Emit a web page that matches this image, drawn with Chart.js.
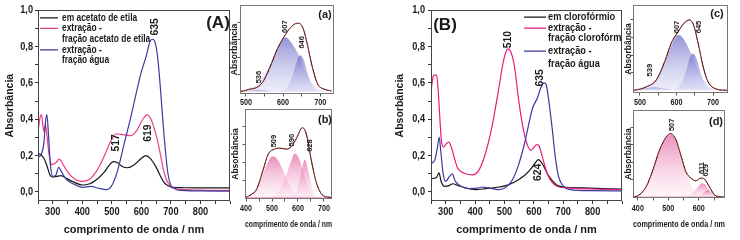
<!DOCTYPE html>
<html><head><meta charset="utf-8">
<script src="https://cdn.jsdelivr.net/npm/chart.js@4.4.1/dist/chart.umd.min.js"></script>
<style>
html,body{margin:0;padding:0;background:#fff;}
#wrap{position:relative;width:740px;height:240px;overflow:hidden;background:#fff}
canvas{position:absolute}
</style>
</head><body><div id="wrap">
<canvas id="cA" width="234" height="240" style="left:0px;top:0px"></canvas>
<canvas id="cB" width="236" height="240" style="left:390px;top:0px"></canvas>
<canvas id="ca" width="114" height="112" style="left:226px;top:0px"></canvas>
<canvas id="cb" width="124" height="136" style="left:222px;top:104px"></canvas>
<canvas id="cc" width="118" height="112" style="left:618px;top:0px"></canvas>
<canvas id="cd" width="128" height="136" style="left:612px;top:104px"></canvas>
</div>
<script>
// ================= DATA =================
const nmA_black = [250,260,270,280,290,300,312,328,348,370,400,425,450,475,490,505,520,535,553,575,600,615,630,645,655,665,678,690,700,725,750,800,850,900];
const absA_black = [0.21,0.205,0.185,0.145,0.095,0.082,0.085,0.09,0.073,0.055,0.038,0.045,0.07,0.11,0.145,0.167,0.16,0.14,0.133,0.148,0.185,0.20,0.185,0.15,0.12,0.085,0.05,0.035,0.027,0.024,0.023,0.022,0.022,0.022];
const nmA_pink = [250,256,262,267,271,275,279,288,298,310,322,335,350,375,400,425,450,475,500,515,540,565,585,605,620,635,655,678,690,700,710,750,800,900];
const absA_pink = [0.33,0.40,0.425,0.36,0.33,0.37,0.33,0.20,0.15,0.16,0.18,0.15,0.11,0.07,0.058,0.07,0.12,0.20,0.29,0.32,0.315,0.31,0.34,0.40,0.425,0.39,0.28,0.10,0.05,0.03,0.02,0.013,0.01,0.008];
const nmA_blue = [250,262,270,275,280,285,292,300,310,320,330,345,375,400,430,455,483,500,520,541,564,598,615,630,638,647,655,662,670,680,690,700,710,725,800,900];
const absA_blue = [0.19,0.21,0.27,0.38,0.425,0.33,0.15,0.085,0.09,0.135,0.11,0.07,0.04,0.025,0.03,0.02,0.013,0.035,0.12,0.26,0.41,0.65,0.74,0.83,0.84,0.82,0.74,0.62,0.45,0.25,0.10,0.035,0.02,0.01,0.006,0.004];
const nmB_black = [250,269,277,285,297,313,324,341,368,402,435,468,501,535,568,590,607,615,629,646,662,679,701,767,900];
const absB_black = [0.073,0.08,0.105,0.055,0.03,0.036,0.045,0.036,0.022,0.013,0.018,0.024,0.033,0.055,0.09,0.127,0.164,0.178,0.155,0.10,0.064,0.036,0.027,0.022,0.015];
const nmB_pink = [250,256,261,269,274,280,285,293,302,310,319,330,341,363,391,413,435,457,479,496,507,512,524,535,546,557,573,590,601,610,618,629,645,662,679,712,800,900];
const absB_pink = [0.553,0.625,0.643,0.643,0.57,0.41,0.29,0.247,0.265,0.274,0.247,0.184,0.13,0.103,0.094,0.12,0.21,0.355,0.553,0.715,0.778,0.787,0.76,0.68,0.535,0.41,0.283,0.229,0.247,0.26,0.252,0.193,0.103,0.052,0.031,0.022,0.016,0.013];
const nmB_blue = [250,263,272,278,283,291,300,313,322,333,352,380,413,424,446,479,501,524,546,568,585,596,612,623,635,642,651,662,673,684,701,723,800,900];
const absB_blue = [0.157,0.175,0.247,0.30,0.23,0.103,0.058,0.085,0.099,0.058,0.031,0.018,0.022,0.027,0.022,0.013,0.022,0.058,0.139,0.265,0.39,0.463,0.517,0.571,0.60,0.59,0.50,0.355,0.193,0.085,0.031,0.013,0.007,0.006];

const nm_a_env = [485,493,510,529,545,556,570,584,602,620,638,652,665,679,693,711,730];
const ab_a_env = [0.005,0.01,0.03,0.05,0.11,0.2,0.34,0.49,0.63,0.74,0.79,0.75,0.55,0.28,0.09,0.03,0.01];
const nm_a_607 = [480,500,520,540,560,580,600,607,620,640,660,680,700,720];
const ab_a_607 = [0.01,0.03,0.06,0.13,0.27,0.45,0.61,0.63,0.58,0.44,0.24,0.09,0.025,0.005];
const nm_a_646 = [590,610,625,635,646,655,665,675,690,705];
const ab_a_646 = [0,0.05,0.18,0.33,0.42,0.37,0.23,0.1,0.02,0];
const nm_a_536 = [485,510,536,560,585];
const ab_a_536 = [0.003,0.012,0.02,0.012,0.003];

const nm_b_env = [400,420,441,466,485,509,530,556,575,594,617,632,651,670,696,721,730];
const ab_b_env = [0.01,0.04,0.1,0.32,0.49,0.55,0.56,0.55,0.58,0.67,0.79,0.72,0.43,0.18,0.03,0.01,0.005];
const nm_b_509 = [400,420,440,460,480,502,520,540,560,580,600,620];
const ab_b_509 = [0.02,0.05,0.12,0.24,0.38,0.47,0.44,0.33,0.19,0.08,0.03,0.01];
const nm_b_590 = [500,520,540,560,575,588,605,620,640,660,680];
const ab_b_590 = [0.02,0.06,0.15,0.30,0.43,0.50,0.44,0.30,0.12,0.03,0.005];
const nm_b_628 = [580,595,610,626,640,655,670,690];
const ab_b_628 = [0.02,0.08,0.25,0.43,0.30,0.12,0.03,0];
const nm_b_base = [396,731];
const ab_b_base = [0,0];

const nm_c_env = [481,486,518,545,568,586,605,620,635,647,659,673,686,709,732,741];
const ab_c_env = [0,0.002,0.04,0.12,0.33,0.54,0.67,0.76,0.80,0.74,0.54,0.27,0.10,0.015,0.002,0];
const nm_c_607 = [481,500,520,540,560,580,600,607,620,640,660,680,700,720];
const ab_c_607 = [0.01,0.03,0.06,0.11,0.25,0.45,0.62,0.63,0.58,0.42,0.22,0.08,0.02,0.005];
const nm_c_645 = [595,610,625,635,645,655,665,675,690,705];
const ab_c_645 = [0,0.06,0.2,0.35,0.42,0.36,0.22,0.1,0.02,0];
const nm_c_539 = [481,510,539,565,590];
const ab_c_539 = [0.005,0.02,0.035,0.02,0.005];

const nm_d_env = [384,395,427,449,471,493,507,525,542,558,574,590,607,618,635,651,673,686];
const ab_d_env = [0.005,0.01,0.12,0.31,0.54,0.69,0.73,0.66,0.47,0.29,0.22,0.19,0.22,0.21,0.12,0.03,0.005,0.002];
const nm_d_507 = [384,400,420,440,460,480,500,507,520,540,560,580,600,620];
const ab_d_507 = [0.005,0.02,0.09,0.22,0.42,0.60,0.71,0.72,0.68,0.48,0.26,0.10,0.03,0.01];
const nm_d_611 = [560,580,595,611,625,640,655,670];
const ab_d_611 = [0.01,0.05,0.11,0.16,0.13,0.06,0.015,0];
const nm_d_629 = [600,615,629,643,660];
const ab_d_629 = [0.01,0.05,0.08,0.05,0.01];
const nm_d_base = [384,686];
const ab_d_base = [0,0];

const mainXTicks = [250,300,350,400,450,500,550,600,650,700,750,800,850,900];
const mainXLabels = [300,400,500,600,700,800];
const mainYTicks = [0,0.1,0.2,0.3,0.4,0.5,0.6,0.7,0.8,0.9,1.0];
const mainYLabels = [0,0.2,0.4,0.6,0.8,1.0];
const insetYTicks = [0.2,0.4,0.6,0.8];
const ticks_a = [500,550,600,650,700];
const labels_a = [500,600,700];
const ticks_b = [400,450,500,550,600,650,700];
const labels_b = [400,500,600,700];
const ticks_c = [500,550,600,650,700];
const labels_c = [500,600,700];
const ticks_d = [400,450,500,550,600,650];
const labels_d = [400,500,600];

const xTitle = 'comprimento de onda / nm';
const yTitle = 'Absorbância';
const legendA = ['em acetato de etila','extração -','fração acetato de etila','extração -','fração água'];
const legendB = ['em clorofórmio','extração -','fração clorofórmio','extração -','fração água'];

// ================= STYLE =================
const REG = '"Liberation Sans", Arial, sans-serif';
const TXT = '#1a1a1a';
const AX = '#333';
const C_BLACK = '#151515';
const C_PINK_A = '#ef3f82';
const C_PINK_B = '#e81e78';
const C_BLUE = '#3a3aa0';

const pts = (xs, ys) => xs.map((x, i) => ({x: x, y: ys[i]}));

function grad(c0, c1) {
  return (ctx) => {
    const chart = ctx.chart;
    if (!chart.chartArea || !chart.scales.y) return c0;
    const ds = chart.data.datasets[ctx.datasetIndex];
    const m = Math.max.apply(null, ds.data.map(p => p.y));
    const ys = chart.scales.y;
    const g = chart.ctx.createLinearGradient(0, ys.getPixelForValue(m), 0, ys.getPixelForValue(0));
    g.addColorStop(0, c0); g.addColorStop(1, c1);
    return g;
  };
}

// condensed text helper
function ctext(ctx, t, x, y, font, sx, align, rot) {
  ctx.save(); ctx.translate(x, y); if (rot) ctx.rotate(-Math.PI / 2); ctx.scale(sx, 1);
  ctx.font = font; ctx.textAlign = align; ctx.textBaseline = 'middle'; ctx.fillText(t, 0, 0); ctx.restore();
}

const deco = {
  id: 'deco',
  beforeDraw(chart, args, o) {
    if (o.bg) {
      const a = chart.chartArea, ctx = chart.ctx;
      ctx.save(); ctx.fillStyle = '#fff'; ctx.fillRect(a.left, a.top, a.width, a.height); ctx.restore();
    }
  },
  afterDraw(chart, args, o) {
    const ctx = chart.ctx, a = chart.chartArea, xs = chart.scales.x, ys = chart.scales.y;
    ctx.save();
    ctx.strokeStyle = o.frame || AX; ctx.lineWidth = 1;
    ctx.strokeRect(Math.round(a.left) + 0.5, Math.round(a.top) + 0.5, Math.round(a.width) - 1, Math.round(a.height) - 1);
    ctx.fillStyle = TXT;
    if (o.xlab) o.xlab.values.forEach(v => ctext(ctx, String(v), xs.getPixelForValue(v), a.bottom + o.xlab.dy, o.xlab.font, o.xlab.sx, 'center'));
    if (o.ylab) o.ylab.values.forEach(v => ctext(ctx, v.toFixed(1).replace('.', ','), a.left - o.ylab.dx, ys.getPixelForValue(v), o.ylab.font, o.ylab.sx, 'right'));
    (o.labels || []).forEach(l => ctext(ctx, l.t, xs.getPixelForValue(l.x), ys.getPixelForValue(l.y), o.labelFont, o.labelSx, 'center', true));
    (o.letters || []).forEach(l => ctext(ctx, l.t, (l.side === 'right' ? a.right : a.left) + l.dx, a.top + l.dy, l.font, 1, 'center'));
    if (o.legend) {
      const L = o.legend;
      ctx.save(); ctx.beginPath(); ctx.rect(a.left, a.top, a.width, a.height); ctx.clip();
      L.rows.forEach(r => {
        const y = a.top + r.dy;
        if (r.color) {
          ctx.strokeStyle = r.color; ctx.lineWidth = 1.2; ctx.beginPath();
          ctx.moveTo(a.left + L.x0, y); ctx.lineTo(a.left + L.x1, y); ctx.stroke();
        }
        ctx.fillStyle = TXT; ctext(ctx, r.t, a.left + L.tx, y, L.font, L.sx, 'left');
      });
      ctx.restore();
    }
    ctx.restore();
  }
};

function mainChart(id, cfg) {
  return new Chart(document.getElementById(id), {
    type: 'line',
    data: { datasets: cfg.series.map(s => ({
      data: pts(s.x, s.y), borderColor: s.color, borderWidth: 1.2, pointRadius: 0,
      fill: false, cubicInterpolationMode: 'monotone' })) },
    options: {
      responsive: false, animation: false, devicePixelRatio: 1, events: [],
      layout: { padding: cfg.pad },
      plugins: { legend: {display: false}, tooltip: {enabled: false}, deco: cfg.deco },
      scales: {
        x: { type: 'linear', min: 250, max: 900,
          afterFit: s => { s.height = cfg.xh; },
          afterBuildTicks: s => { s.ticks = mainXTicks.map(v => ({value: v})); },
          ticks: { autoSkip: false, maxRotation: 0, callback: () => '' },
          grid: { display: true, drawOnChartArea: false, drawTicks: true, tickLength: 3, color: AX },
          border: { display: false },
          title: { display: true, text: xTitle, color: TXT, font: {family: REG, size: 11, weight: 'bold'}, padding: {top: 0, bottom: 3} } },
        y: { type: 'linear', min: -0.05, max: 1.0,
          afterFit: s => { s.width = cfg.yw; },
          afterBuildTicks: s => { s.ticks = mainYTicks.map(v => ({value: v})); },
          ticks: { autoSkip: false, callback: () => '' },
          grid: { display: true, drawOnChartArea: false, drawTicks: true, tickLength: 3, color: AX },
          border: { display: false },
          title: { display: true, text: yTitle, color: TXT, font: {family: REG, size: 10.5, weight: 'bold'}, padding: {top: cfg.ytp, bottom: 0} } }
      }
    },
    plugins: [deco]
  });
}

function insetChart(id, cfg) {
  const ds = [];
  ds.push({ data: pts(cfg.env[0], cfg.env[1]), borderColor: '#d42020', borderDash: [2, 2], borderWidth: 1, pointRadius: 0, fill: false, cubicInterpolationMode: 'monotone' });
  ds.push({ data: pts(cfg.env[0], cfg.env[1]), borderColor: C_BLACK, borderWidth: 1, pointRadius: 0, fill: false, cubicInterpolationMode: 'monotone' });
  if (cfg.base) ds.push({ data: pts(cfg.base[0], cfg.base[1]), borderColor: cfg.baseColor, borderWidth: 1.2, pointRadius: 0, fill: false });
  cfg.comps.forEach(c => ds.push({ data: pts(c[0], c[1]), borderWidth: 0, borderColor: 'rgba(0,0,0,0)', pointRadius: 0,
    fill: 'origin', backgroundColor: grad(cfg.c0, cfg.c1), cubicInterpolationMode: 'monotone' }));
  return new Chart(document.getElementById(id), {
    type: 'line',
    data: { datasets: ds },
    options: {
      responsive: false, animation: false, devicePixelRatio: 1, events: [],
      layout: { padding: cfg.pad },
      plugins: { legend: {display: false}, tooltip: {enabled: false}, deco: cfg.deco },
      scales: {
        x: { type: 'linear', min: cfg.xmin, max: cfg.xmax,
          afterFit: s => { s.height = cfg.xh; },
          afterBuildTicks: s => { s.ticks = cfg.xt.map(v => ({value: v})); },
          ticks: { autoSkip: false, maxRotation: 0, callback: () => '' },
          grid: { display: true, drawOnChartArea: false, drawTicks: true, tickLength: 2.5, color: '#555' },
          border: { display: false },
          title: { display: !!cfg.xtitle, text: xTitle, color: TXT, font: {family: REG, size: 8.5, weight: 'bold'}, padding: {top: 0, bottom: 10} } },
        y: { type: 'linear', min: cfg.ymin, max: cfg.ymax,
          afterFit: s => { s.width = cfg.yw; },
          afterBuildTicks: s => { s.ticks = insetYTicks.map(v => ({value: v})); },
          ticks: { display: false },
          grid: { display: true, drawOnChartArea: false, drawTicks: true, tickLength: 2.5, color: '#555' },
          border: { display: false },
          title: { display: true, text: yTitle, color: TXT, font: {family: REG, size: 8.5, weight: 'bold'}, padding: {top: cfg.ytp, bottom: 0} } }
      }
    },
    plugins: [deco]
  });
}

const MAINX = { values: mainXLabels, dy: 11, font: 'bold 11.5px ' + REG, sx: 0.8 };
const MAINY = { values: mainYLabels, dx: 5, font: 'bold 11.5px ' + REG, sx: 0.8 };

mainChart('cA', {
  series: [
    {x: nmA_blue, y: absA_blue, color: C_BLUE},
    {x: nmA_pink, y: absA_pink, color: C_PINK_A},
    {x: nmA_black, y: absA_black, color: C_BLACK}
  ],
  pad: {left: 0, right: 4, top: 7, bottom: 0}, xh: 39, yw: 38, ytp: 4,
  deco: {
    frame: '#444', xlab: MAINX, ylab: MAINY,
    labelFont: 'bold 11.5px ' + REG, labelSx: 0.9,
    labels: [{t: '635', x: 646, y: 0.908}, {t: '517', x: 513, y: 0.27}, {t: '619', x: 622, y: 0.324}],
    letters: [{t: '(A)', side: 'right', dx: -12, dy: 13, font: 'bold 17px ' + REG}],
    legend: { x0: 2, x1: 20, tx: 24, font: 'bold 10px ' + REG, sx: 0.84, rows: [
      {dy: 7.7, t: legendA[0], color: C_BLACK},
      {dy: 18.2, t: legendA[1], color: C_PINK_A},
      {dy: 29, t: legendA[2]},
      {dy: 39.7, t: legendA[3], color: C_BLUE},
      {dy: 50.3, t: legendA[4]}
    ]}
  }
});

mainChart('cB', {
  series: [
    {x: nmB_blue, y: absB_blue, color: C_BLUE},
    {x: nmB_pink, y: absB_pink, color: C_PINK_B},
    {x: nmB_black, y: absB_black, color: C_BLACK}
  ],
  pad: {left: 0, right: 4, top: 7, bottom: 0}, xh: 39, yw: 41, ytp: 3.5,
  deco: {
    frame: '#444', xlab: MAINX, ylab: Object.assign({}, MAINY, {dx: 6}),
    labelFont: 'bold 11.5px ' + REG, labelSx: 0.9,
    labels: [{t: '510', x: 512, y: 0.838}, {t: '635', x: 619, y: 0.627}, {t: '624', x: 612, y: 0.108}],
    letters: [{t: '(B)', side: 'left', dx: 14, dy: 15, font: 'bold 17px ' + REG}],
    legend: { x0: 93, x1: 115, tx: 117, font: 'bold 10.5px ' + REG, sx: 0.88, rows: [
      {dy: 7, t: legendB[0], color: C_BLACK},
      {dy: 18, t: legendB[1], color: C_PINK_B},
      {dy: 28, t: legendB[2]},
      {dy: 41, t: legendB[3], color: C_BLUE},
      {dy: 53.5, t: legendB[4]}
    ]}
  }
});

const BLUE0 = 'rgba(100,100,195,0.7)', BLUE1 = 'rgba(195,195,238,0.3)';
const PINK0 = 'rgba(222,70,145,0.62)', PINK1 = 'rgba(248,205,225,0.2)';
const INX = (vals, dy) => ({ values: vals, dy: dy, font: 'bold 8.5px ' + REG, sx: 0.85 });

insetChart('ca', {
  env: [nm_a_env, ab_a_env],
  comps: [[nm_a_646, ab_a_646], [nm_a_607, ab_a_607], [nm_a_536, ab_a_536]],
  c0: BLUE0, c1: BLUE1,
  xmin: 484, xmax: 737, ymin: -0.025, ymax: 1.0,
  xt: ticks_a, xh: 18, yw: 14, ytp: 4,
  pad: {left: 0, right: 6, top: 5, bottom: 0},
  deco: { bg: true, frame: '#777', labelFont: 'bold 7.5px ' + REG, labelSx: 1, xlab: INX(labels_a, 9),
    labels: [{t: '536', x: 535, y: 0.17}, {t: '607', x: 605, y: 0.75}, {t: '646', x: 651, y: 0.57}],
    letters: [{t: '(a)', side: 'right', dx: -9, dy: 10, font: 'bold 11px ' + REG}] }
});

insetChart('cb', {
  env: [nm_b_env, ab_b_env],
  base: [nm_b_base, ab_b_base], baseColor: 'rgba(225,60,130,0.8)',
  comps: [[nm_b_628, ab_b_628], [nm_b_590, ab_b_590], [nm_b_509, ab_b_509]],
  c0: PINK0, c1: PINK1,
  xmin: 396, xmax: 731, ymin: -0.01, ymax: 1.0,
  xt: ticks_b, xh: 41, yw: 23, ytp: 9, xtitle: true,
  pad: {left: 0, right: 14, top: 5, bottom: 0},
  deco: { bg: true, frame: '#777', labelFont: 'bold 7.5px ' + REG, labelSx: 1, xlab: INX(labels_b, 10),
    labels: [{t: '509', x: 508, y: 0.64}, {t: '590', x: 577, y: 0.65}, {t: '628', x: 646, y: 0.59}],
    letters: [{t: '(b)', side: 'right', dx: -7, dy: 11, font: 'bold 11px ' + REG}] }
});

insetChart('cc', {
  env: [nm_c_env, ab_c_env],
  comps: [[nm_c_645, ab_c_645], [nm_c_607, ab_c_607], [nm_c_539, ab_c_539]],
  c0: BLUE0, c1: BLUE1,
  xmin: 481, xmax: 741, ymin: -0.03, ymax: 0.97,
  xt: ticks_c, xh: 19, yw: 15, ytp: 6,
  pad: {left: 0, right: 8, top: 5, bottom: 0},
  deco: { bg: true, frame: '#777', labelFont: 'bold 7.5px ' + REG, labelSx: 1, xlab: INX(labels_c, 10),
    labels: [{t: '539', x: 527, y: 0.23}, {t: '607', x: 601, y: 0.72}, {t: '645', x: 661, y: 0.72}],
    letters: [{t: '(c)', side: 'right', dx: -11, dy: 9, font: 'bold 11px ' + REG}] }
});

insetChart('cd', {
  env: [nm_d_env, ab_d_env],
  base: [nm_d_base, ab_d_base], baseColor: 'rgba(225,60,130,0.9)',
  comps: [[nm_d_629, ab_d_629], [nm_d_611, ab_d_611], [nm_d_507, ab_d_507]],
  c0: PINK0, c1: PINK1,
  xmin: 384, xmax: 686, ymin: -0.008, ymax: 1.0,
  xt: ticks_d, xh: 42, yw: 21, ytp: 12, xtitle: true,
  pad: {left: 0, right: 15, top: 6, bottom: 0},
  deco: { bg: true, frame: '#777', labelFont: 'bold 7.5px ' + REG, labelSx: 1, xlab: INX(labels_d, 11),
    labels: [{t: '507', x: 511, y: 0.83}, {t: '611', x: 610, y: 0.335}, {t: '629', x: 623, y: 0.31}],
    letters: [{t: '(d)', side: 'right', dx: -9, dy: 12, font: 'bold 11px ' + REG}] }
});
</script>
</body></html>
